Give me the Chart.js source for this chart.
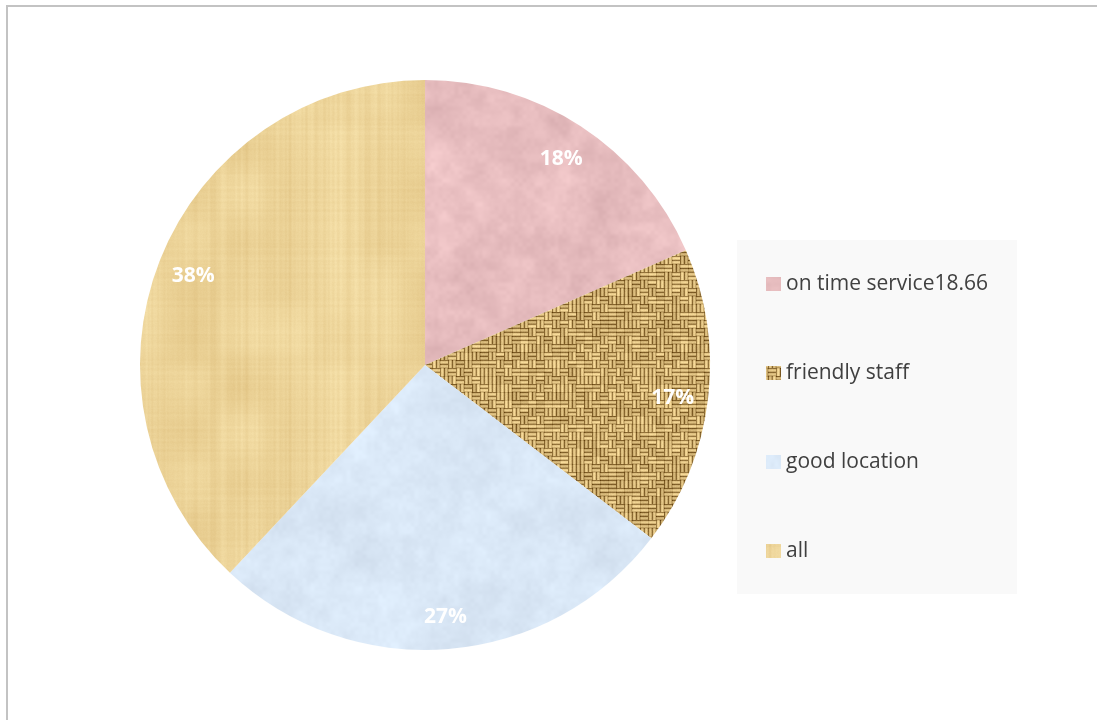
<!DOCTYPE html>
<html>
<head>
<meta charset="utf-8">
<script src="https://cdn.jsdelivr.net/npm/chart.js@4.4.0/dist/chart.umd.min.js"></script>
<style>
  html, body { margin: 0; padding: 0; background: #ffffff; }
  #wrap { position: relative; width: 1097px; height: 720px; }
</style>
</head>
<body>
<div id="wrap"><canvas id="c" width="1097" height="720"></canvas></div>
<script>
// Categories and their shares of the whole
const categories = ['on time service18.66', 'friendly staff', 'good location', 'all'];
const shares = [18.4, 17.0, 26.6, 38.0];

// Small seeded generator so the textures are the same on every load
function makeRng(seed) {
  let s = seed >>> 0;
  return () => { s = (s * 1664525 + 1013904223) >>> 0; return s / 4294967296; };
}

function clamp(v) { return Math.max(0, Math.min(255, Math.round(v))); }

// Tileable value noise in [-0.5, 0.5]
function valueNoise(size, cells, seed) {
  const rnd = makeRng(seed);
  const g = [];
  for (let i = 0; i < cells * cells; i++) g.push(rnd() - 0.5);
  const out = new Float32Array(size * size);
  const s = t => t * t * (3 - 2 * t);
  for (let y = 0; y < size; y++) {
    const fy = y / size * cells, j0 = Math.floor(fy), j1 = (j0 + 1) % cells, ty = s(fy - j0);
    for (let x = 0; x < size; x++) {
      const fx = x / size * cells, i0 = Math.floor(fx), i1 = (i0 + 1) % cells, tx = s(fx - i0);
      const a = g[j0 * cells + i0], b = g[j0 * cells + i1];
      const c = g[j1 * cells + i0], d = g[j1 * cells + i1];
      out[y * size + x] = (a + (b - a) * tx) * (1 - ty) + (c + (d - c) * tx) * ty;
    }
  }
  return out;
}

// Mottled paper / marble look
function mottledTexture(base, amps, seed) {
  const size = 240;
  const c = document.createElement('canvas');
  c.width = size; c.height = size;
  const ctx = c.getContext('2d');
  const f1 = valueNoise(size, 6, seed);
  const f2 = valueNoise(size, 20, seed + 7);
  const f3 = valueNoise(size, 60, seed + 13);
  const img = ctx.createImageData(size, size);
  for (let i = 0; i < size * size; i++) {
    const n = f1[i] * amps[0] + f2[i] * amps[1] + f3[i] * amps[2];
    img.data[i * 4] = clamp(base[0] + n);
    img.data[i * 4 + 1] = clamp(base[1] + n * 1.05);
    img.data[i * 4 + 2] = clamp(base[2] + n);
    img.data[i * 4 + 3] = 255;
  }
  ctx.putImageData(img, 0, 0);
  return c;
}

// Canvas cloth: soft vertical and horizontal streaks
function canvasTexture(base, seed) {
  const size = 240;
  const rnd = makeRng(seed);
  const col = [], row = [];
  for (let x = 0; x < size; x++) col.push(rnd() - 0.5);
  for (let y = 0; y < size; y++) row.push(rnd() - 0.5);
  const sm = (a, i) => (a[(i - 1 + size) % size] + 2 * a[i] + a[(i + 1) % size]) / 4;
  const c = document.createElement('canvas');
  c.width = size; c.height = size;
  const ctx = c.getContext('2d');
  const blot = valueNoise(size, 5, seed + 3);
  const img = ctx.createImageData(size, size);
  for (let y = 0; y < size; y++) {
    for (let x = 0; x < size; x++) {
      const i = y * size + x;
      const n = sm(col, x) * 14 + sm(row, y) * 7 + blot[i] * 16 + (rnd() - 0.5) * 3;
      img.data[i * 4] = clamp(base[0] + n * 0.7);
      img.data[i * 4 + 1] = clamp(base[1] + n);
      img.data[i * 4 + 2] = clamp(base[2] + n * 1.3);
      img.data[i * 4 + 3] = 255;
    }
  }
  ctx.putImageData(img, 0, 0);
  return c;
}

// Burlap: basket weave of paired strands with uneven brightness
function burlapTexture(seed) {
  const strand = 4, block = strand * 2, n = 20, size = block * n;
  const rnd = makeRng(seed);
  const c = document.createElement('canvas');
  c.width = size; c.height = size;
  const ctx = c.getContext('2d');
  const orient = [], tone = [];
  for (let j = 0; j < n; j++) {
    for (let i = 0; i < n; i++) {
      let h = (i + j) % 2 === 0;
      if (rnd() < 0.2) h = !h;
      orient.push(h);
      tone.push([rnd() - 0.5, rnd() - 0.5]);
    }
  }
  const img = ctx.createImageData(size, size);
  for (let y = 0; y < size; y++) {
    for (let x = 0; x < size; x++) {
      const bi = Math.floor(x / block), bj = Math.floor(y / block);
      const k = bj * n + bi;
      const lx = x % block, ly = y % block;
      const h = orient[k];
      const across = h ? ly : lx;
      const along = h ? lx : ly;
      const which = across < strand ? 0 : 1;
      const a = across % strand;
      let t;
      if (a === 0) t = -0.9;
      else if (a === 1) t = 0.35;
      else if (a === 2) t = 0.55;
      else t = 0.05;
      if (along === 0) t -= 0.4;
      t += tone[k][which] * 0.6 + (rnd() - 0.5) * 0.15;
      const r = 196 + t * 62, g = 165 + t * 64, b = 104 + t * 58;
      const i = y * size + x;
      img.data[i * 4] = clamp(r); img.data[i * 4 + 1] = clamp(g); img.data[i * 4 + 2] = clamp(b); img.data[i * 4 + 3] = 255;
    }
  }
  ctx.putImageData(img, 0, 0);
  return c;
}

const work = document.getElementById('c').getContext('2d');
const textures = [
  work.createPattern(mottledTexture([232, 190, 192], [16, 12, 7], 11), 'repeat'),
  work.createPattern(burlapTexture(5), 'repeat'),
  work.createPattern(mottledTexture([217, 231, 246], [9, 8, 5], 29), 'repeat'),
  work.createPattern(canvasTexture([236, 211, 152], 41), 'repeat')
];

const FONT = '"Open Sans", "Noto Sans", sans-serif';

// Frame line around the chart
const framePlugin = {
  id: 'frame',
  beforeDraw(chart) {
    const ctx = chart.ctx;
    ctx.save();
    ctx.fillStyle = '#ffffff';
    ctx.fillRect(0, 0, chart.width, chart.height);
    ctx.fillStyle = '#c3c3c3';
    ctx.fillRect(6, 5, chart.width - 6, 2);
    ctx.fillRect(6, 5, 2, chart.height - 5);
    ctx.restore();
  }
};

// Percentage labels placed near the rim on each slice's middle angle
const sliceLabels = {
  id: 'sliceLabels',
  afterDatasetsDraw(chart) {
    const ctx = chart.ctx;
    const meta = chart.getDatasetMeta(0);
    const vals = chart.data.datasets[0].data;
    const total = vals.reduce((a, b) => a + b, 0);
    ctx.save();
    ctx.fillStyle = '#ffffff';
    ctx.font = 'bold 21px ' + FONT;
    ctx.textAlign = 'center';
    ctx.textBaseline = 'middle';
    meta.data.forEach((arc, i) => {
      const p = arc.getProps(['x', 'y', 'startAngle', 'endAngle', 'outerRadius'], true);
      const mid = (p.startAngle + p.endAngle) / 2;
      const r = p.outerRadius * 0.875;
      const txt = Math.round(vals[i] / total * 100) + '%';
      ctx.fillText(txt, p.x + Math.cos(mid) * r, p.y + Math.sin(mid) * r + 3);
    });
    ctx.restore();
  }
};

// Legend panel on the right
const sideLegend = {
  id: 'sideLegend',
  afterDraw(chart) {
    const ctx = chart.ctx;
    const box = { x: 737, y: 240, w: 280, h: 354 };
    ctx.save();
    ctx.fillStyle = '#f9f9f9';
    ctx.fillRect(box.x, box.y, box.w, box.h);
    ctx.font = '21px ' + FONT;
    ctx.textBaseline = 'middle';
    const step = 89;
    const firstY = 284;
    chart.data.labels.forEach((lab, i) => {
      const cy = firstY + i * step;
      ctx.fillStyle = chart.data.datasets[0].backgroundColor[i];
      ctx.fillRect(766, cy - 7, 15, 14);
      ctx.fillStyle = '#404040';
      ctx.fillText(lab, 786, cy);
    });
    ctx.restore();
  }
};

new Chart(document.getElementById('c'), {
  type: 'pie',
  data: {
    labels: categories,
    datasets: [{
      data: shares,
      backgroundColor: textures,
      borderWidth: 0,
      hoverOffset: 0
    }]
  },
  options: {
    responsive: false,
    animation: false,
    layout: { padding: { left: 140, right: 387, top: 80, bottom: 70 } },
    plugins: {
      legend: { display: false },
      tooltip: { enabled: false }
    }
  },
  plugins: [framePlugin, sliceLabels, sideLegend]
});
</script>
</body>
</html>
